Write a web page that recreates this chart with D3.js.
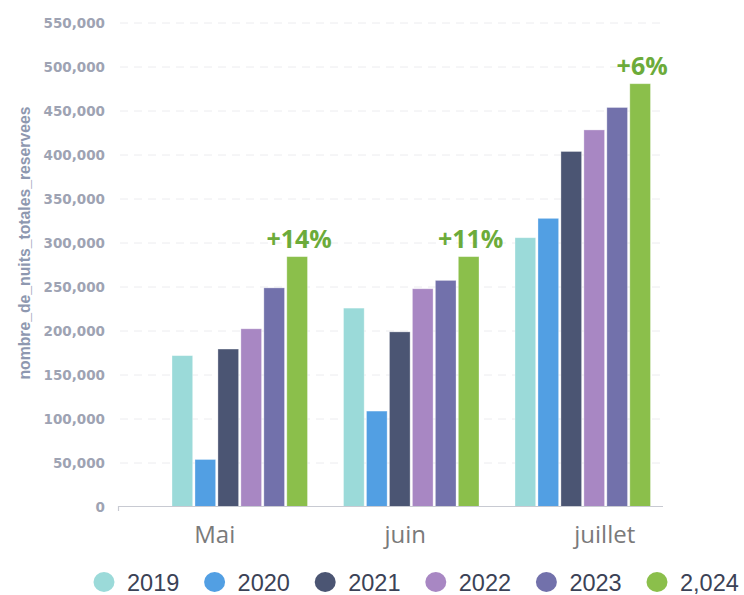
<!DOCTYPE html>
<html lang="fr">
<head>
<meta charset="utf-8">
<script src="https://d3js.org/d3.v7.min.js"></script>
<style>
body { margin: 0; background: #fff; }
.tick-label { font: bold 13.5px "DejaVu Sans", sans-serif; fill: #9ea3b3; }
.y-title { font: bold 17px "Liberation Sans", Arial, sans-serif; fill: #8e98b0; }
.month { font: 24px "Open Sans", sans-serif; fill: #7a7a7a; }
.pct { font: bold 25px "Open Sans", sans-serif; fill: #6cab3a; }
.legend text { font: 23.5px "Liberation Sans", Arial, sans-serif; fill: #3b4256; }
</style>
</head>
<body>
<svg id="chart" width="744" height="595"></svg>
<script>
// data
var months = ["Mai", "juin", "juillet"];
var years = ["2019", "2020", "2021", "2022", "2023", "2024"];
var yearLabels = ["2019", "2020", "2021", "2022", "2023", "2,024"];
var v2019 = [172000, 226000, 306000];
var v2020 = [54000, 109000, 328000];
var v2021 = [179500, 199000, 404000];
var v2022 = [202500, 248000, 428500];
var v2023 = [249000, 257500, 454000];
var v2024 = [284500, 284500, 481000];
var growth = ["+14%", "+11%", "+6%"];
var yTicks = [0, 50000, 100000, 150000, 200000, 250000, 300000, 350000, 400000, 450000, 500000, 550000];

var series = [v2019, v2020, v2021, v2022, v2023, v2024];
var colors = ["#9bdad9", "#529fe3", "#4b5573", "#a887c3", "#7271ab", "#8bbf4b"];

var svg = d3.select("#chart");

var y = d3.scaleLinear().domain([0, 550000]).range([507, 23]);
var x0 = d3.scaleBand().domain(months).range([154, 668.5]).paddingInner(0.21).paddingOuter(0.105);
var x1 = d3.scaleBand().domain(years).range([0, x0.bandwidth()]).paddingInner(0.1);
var color = d3.scaleOrdinal().domain(years).range(colors);

// dashed grid
svg.append("g").selectAll("line")
	.data(yTicks.filter(function(d) { return d > 0; }))
	.join("line")
	.attr("x1", 120).attr("x2", 660)
	.attr("y1", function(d) { return y(d); })
	.attr("y2", function(d) { return y(d); })
	.style("stroke", "#ececef")
	.style("stroke-dasharray", "8,6");

// y tick labels
svg.append("g").selectAll("text")
	.data(yTicks)
	.join("text")
	.attr("class", "tick-label")
	.attr("x", 105)
	.attr("y", function(d) { return y(d); })
	.attr("dy", "0.36em")
	.attr("text-anchor", "end")
	.text(d3.format(","));

svg.append("text")
	.attr("class", "y-title")
	.attr("transform", "translate(30,243) rotate(-90)")
	.attr("text-anchor", "middle")
	.attr("textLength", 273)
	.attr("lengthAdjust", "spacingAndGlyphs")
	.text("nombre_de_nuits_totales_reservees");

// bars
var rows = months.map(function(m, i) {
	return { month: m, values: years.map(function(yr, j) { return { year: yr, value: series[j][i] }; }) };
});

var groups = svg.append("g").selectAll("g")
	.data(rows)
	.join("g")
	.attr("transform", function(d) { return "translate(" + x0(d.month) + ",0)"; });

groups.selectAll("rect")
	.data(function(d) { return d.values; })
	.join("rect")
	.attr("x", function(d) { return x1(d.year); })
	.attr("y", function(d) { return y(d.value); })
	.attr("width", x1.bandwidth())
	.attr("height", function(d) { return y(0) - y(d.value); })
	.style("fill", function(d) { return color(d.year); })
	.style("stroke", "#fff")
	.style("stroke-opacity", 0.4)
	.style("stroke-width", 0.8);

// growth labels over the 2024 bars
groups.append("text")
	.attr("class", "pct")
	.attr("x", x1("2024") + x1.bandwidth() / 2 + 2)
	.attr("y", function(d) { return y(d.values[5].value) - 9; })
	.attr("text-anchor", "middle")
	.text(function(d, i) { return growth[i]; });

// baseline
svg.append("path")
	.attr("d", "M118.5,511V506.5H663")
	.style("fill", "none")
	.style("stroke", "#c8cad2")
	.style("stroke-width", 1.2);

// month labels (sit a bit off the group centres in the original)
var labelDx = [-25, -6, 22];
svg.append("g").selectAll("text")
	.data(months)
	.join("text")
	.attr("class", "month")
	.attr("x", function(d, i) { return x0(d) + x0.bandwidth() / 2 + labelDx[i]; })
	.attr("y", 543)
	.attr("text-anchor", "middle")
	.text(function(d) { return d; });

// legend
var lx = d3.scalePoint().domain(years).range([104, 657]);
var legend = svg.append("g").attr("class", "legend").selectAll("g")
	.data(years)
	.join("g")
	.attr("transform", function(d) { return "translate(" + lx(d) + ",582)"; });

legend.append("ellipse")
	.attr("rx", 10.5).attr("ry", 10)
	.style("fill", function(d) { return color(d); });

legend.append("text")
	.attr("x", 23)
	.attr("y", 8.5)
	.text(function(d, i) { return yearLabels[i]; });
</script>
</body>
</html>
